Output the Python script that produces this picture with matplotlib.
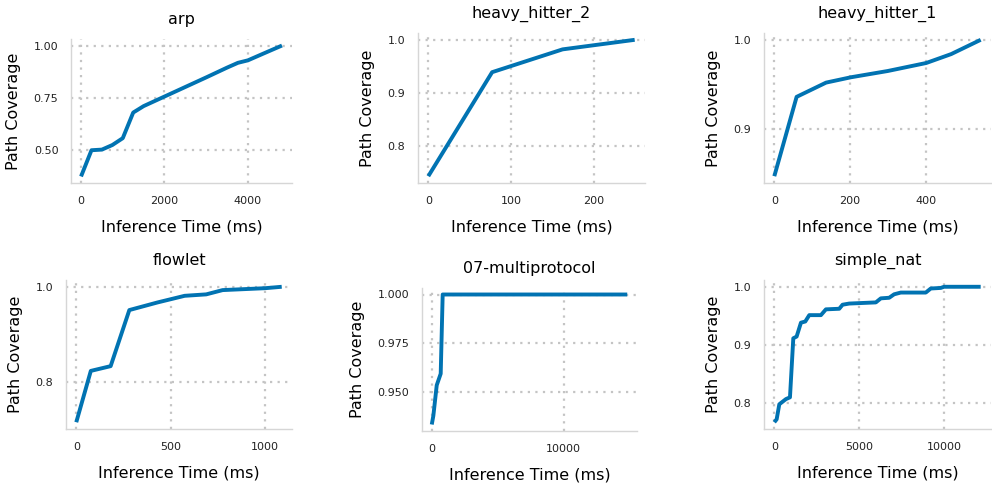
import matplotlib
matplotlib.use("Agg")
import matplotlib.pyplot as plt

# data
arp_t = [0, 250, 500, 750, 1000, 1250, 1500, 2000, 2500, 3000, 3500, 3760, 4000, 4400, 4815]
arp_cov = [0.371, 0.497, 0.500, 0.522, 0.555, 0.678, 0.709, 0.755, 0.801, 0.847, 0.894, 0.917, 0.929, 0.964, 1.000]

hh2_t = [0, 77, 162, 249]
hh2_cov = [0.743, 0.939, 0.982, 1.000]

hh1_t = [0, 59, 137, 203, 300, 402, 468, 546]
hh1_cov = [0.847, 0.936, 0.952, 0.958, 0.965, 0.974, 0.984, 1.000]

flow_t = [0, 77, 182, 281, 430, 574, 688, 775, 1000, 1088]
flow_cov = [0.715, 0.823, 0.833, 0.951, 0.967, 0.981, 0.984, 0.993, 0.997, 1.000]

multi_t = [0, 120, 376, 677, 827, 14812]
multi_cov = [0.9335, 0.9380, 0.9536, 0.9595, 1.000, 1.000]

nat_t = [0, 137, 294, 686, 922, 1118, 1314, 1569, 1824, 2059, 2745, 3039, 3824,
         4020, 4412, 5980, 6275, 6765, 7059, 7451, 8922, 9216, 9804, 10000, 12157]
nat_cov = [0.766, 0.771, 0.797, 0.806, 0.809, 0.911, 0.914, 0.938, 0.940, 0.951, 0.951,
           0.961, 0.962, 0.969, 0.971, 0.973, 0.980, 0.981, 0.987, 0.990, 0.990, 0.997,
           0.998, 1.000, 1.000]

titles = ["arp", "heavy_hitter_2", "heavy_hitter_1", "flowlet", "07-multiprotocol", "simple_nat"]
series = [(arp_t, arp_cov), (hh2_t, hh2_cov), (hh1_t, hh1_cov),
          (flow_t, flow_cov), (multi_t, multi_cov), (nat_t, nat_cov)]
xticks = [[0, 2000, 4000], [0, 100, 200], [0, 200, 400], [0, 500, 1000], [0, 10000], [0, 5000, 10000]]
yticks = [[0.50, 0.75, 1.00], [0.8, 0.9, 1.0], [0.9, 1.0], [0.8, 1.0], [0.950, 0.975, 1.000], [0.8, 0.9, 1.0]]
yfmt = ["%.2f", "%.1f", "%.1f", "%.1f", "%.3f", "%.1f"]

# axes boxes in pixels: left, right, top, bottom
boxes = [(71, 292, 39, 183), (418, 645, 33, 183), (764, 991, 33, 183),
         (66, 292, 280, 429), (422, 637, 288, 431), (764, 991, 280, 429)]

W, H = 992, 486
fig = plt.figure(figsize=(W / 100, H / 100), dpi=100)

for (t, c), title, xt, yt, fmt, (l, r, tp, b) in zip(series, titles, xticks, yticks, yfmt, boxes):
    ax = fig.add_axes([l / W, 1 - b / H, (r - l) / W, (b - tp) / H])
    ax.plot(t, c, color="#0173b2", lw=2.8, solid_capstyle="butt")
    ax.set_xticks(xt)
    ax.set_yticks(yt)
    ax.set_yticklabels([fmt % v for v in yt])
    ax.grid(True, color="#c4c4c4", lw=1.6, dashes=(1, 2.4))
    ax.set_axisbelow(True)
    for s in ["top", "right"]:
        ax.spines[s].set_visible(False)
    for s in ["left", "bottom"]:
        ax.spines[s].set_color("#d6d6d6")
        ax.spines[s].set_linewidth(1.0)
    ax.tick_params(length=0, pad=9, labelsize=8, labelcolor="#222222")
    ax.set_title(title, fontsize=11.5, pad=11)
    ax.set_xlabel("Inference Time (ms)", fontsize=11.5, labelpad=10)
    ax.set_ylabel("Path Coverage", fontsize=11.5, labelpad=9)

fig.savefig("out.png", dpi=100)
